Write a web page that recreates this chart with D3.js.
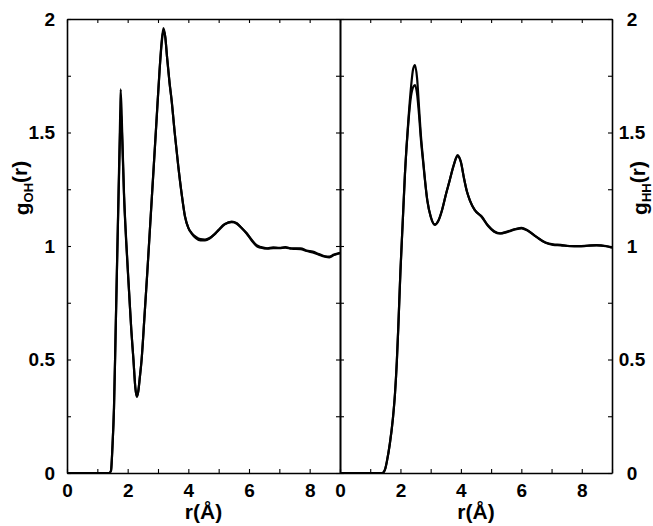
<!DOCTYPE html>
<html><head><meta charset="utf-8">
<script src="https://cdn.jsdelivr.net/npm/d3@7"></script>
<style>
body{margin:0;background:#fff;}
text{font-family:"Liberation Sans",Arial,sans-serif;font-weight:bold;fill:#000;}
</style></head>
<body><svg id="c" width="653" height="526"></svg>
<script>
// ---- data ----
const rOH = [0,1.40,1.45,1.50,1.55,1.60,1.65,1.70,1.75,1.77,1.82,1.88,1.95,2.05,2.12,2.19,2.25,2.30,2.35,2.40,2.46,2.55,2.65,2.75,2.85,2.95,3.05,3.12,3.18,3.24,3.30,3.38,3.45,3.55,3.67,3.78,3.89,4.00,4.11,4.25,4.40,4.55,4.70,4.85,5.00,5.20,5.43,5.60,5.75,5.92,6.10,6.25,6.40,6.60,6.80,7.00,7.20,7.40,7.70,7.90,8.10,8.30,8.50,8.65,8.80,9.00];
const gOH_a = [0,0,0.01,0.12,0.29,0.60,0.92,1.24,1.56,1.69,1.50,1.23,1.03,0.79,0.63,0.50,0.38,0.336,0.36,0.42,0.50,0.68,0.89,1.11,1.33,1.55,1.77,1.90,1.96,1.92,1.83,1.72,1.64,1.50,1.35,1.23,1.13,1.08,1.057,1.04,1.03,1.028,1.035,1.05,1.07,1.095,1.107,1.10,1.08,1.057,1.025,1.004,0.995,0.99,0.994,0.992,0.995,0.99,0.99,0.98,0.975,0.965,0.955,0.953,0.962,0.97];
const gOH_b = [0,0,0.01,0.12,0.29,0.60,0.92,1.22,1.50,1.60,1.47,1.22,1.02,0.79,0.63,0.50,0.38,0.336,0.36,0.42,0.50,0.68,0.89,1.11,1.33,1.55,1.77,1.89,1.95,1.92,1.83,1.72,1.64,1.50,1.35,1.23,1.13,1.08,1.055,1.035,1.025,1.025,1.033,1.05,1.072,1.097,1.105,1.098,1.08,1.055,1.022,1.0,0.992,0.988,0.99,0.99,0.993,0.988,0.986,0.978,0.972,0.962,0.953,0.95,0.96,0.968];

const rHH = [0,1.40,1.45,1.50,1.55,1.65,1.75,1.82,1.88,1.93,2.00,2.07,2.15,2.26,2.35,2.42,2.48,2.55,2.62,2.67,2.75,2.89,3.00,3.14,3.25,3.38,3.51,3.63,3.75,3.89,4.00,4.10,4.20,4.30,4.45,4.69,4.90,5.10,5.30,5.50,5.80,6.01,6.20,6.50,6.80,7.05,7.30,7.60,7.90,8.20,8.49,8.80,9.00];
const gHH_a = [0,0,0.005,0.02,0.05,0.13,0.24,0.35,0.49,0.645,0.89,1.09,1.32,1.55,1.70,1.78,1.797,1.74,1.60,1.50,1.38,1.20,1.13,1.093,1.11,1.16,1.23,1.29,1.35,1.40,1.37,1.30,1.24,1.20,1.16,1.13,1.09,1.065,1.056,1.062,1.075,1.08,1.07,1.04,1.015,1.007,1.005,1.0,1.0,1.002,1.004,1.0,0.994];
const gHH_b = [0,0,0.005,0.02,0.05,0.13,0.24,0.35,0.49,0.645,0.89,1.09,1.32,1.54,1.66,1.70,1.709,1.67,1.57,1.48,1.37,1.20,1.13,1.095,1.11,1.16,1.23,1.29,1.35,1.395,1.37,1.30,1.24,1.20,1.16,1.128,1.088,1.063,1.055,1.06,1.073,1.078,1.068,1.04,1.014,1.005,1.003,0.999,0.998,1.001,1.003,0.999,0.993];

const xTicks = [0,1,2,3,4,5,6,7,8,9];
const xLabels = [0,2,4,6,8];
const yTicks = [0,0.25,0.5,0.75,1,1.25,1.5,1.75,2];
const yLabels = [0,0.5,1,1.5,2];

// ---- layout ----
const svg = d3.select("#c");
const yTop = 19, yBot = 473;
const y = d3.scaleLinear().domain([0,2]).range([yBot, yTop]);
const panels = [
  {x0:67, x1:340, r:rOH, a:gOH_a, b:gOH_b, side:"left", sub:"OH"},
  {x0:340, x1:612, r:rHH, a:gHH_a, b:gHH_b, side:"right", sub:"HH"}
];

const fmtX = v => xLabels.includes(v) ? String(v) : "";
const fmtY = v => yLabels.includes(v) ? String(v) : "";

panels.forEach(p => {
  const x = d3.scaleLinear().domain([0,9]).range([p.x0, p.x1]);
  const g = svg.append("g");

  const gb = g.append("g").attr("transform",`translate(0,${yBot})`)
    .call(d3.axisBottom(x).tickValues(xTicks).tickSizeInner(-4).tickSizeOuter(0).tickPadding(11).tickFormat(fmtX));
  gb.selectAll("text").style("font-size","19px");
  g.append("g").attr("transform",`translate(0,${yTop})`)
    .call(d3.axisTop(x).tickValues(xTicks).tickSizeInner(-4).tickSizeOuter(0).tickFormat(""));
  const gl = g.append("g").attr("transform",`translate(${p.x0},0)`)
    .call(d3.axisLeft(y).tickValues(yTicks).tickSizeInner(-4).tickSizeOuter(0).tickPadding(12)
      .tickFormat(p.side==="left" ? fmtY : ""));
  gl.selectAll("text").style("font-size","19px");
  const gr = g.append("g").attr("transform",`translate(${p.x1},0)`)
    .call(d3.axisRight(y).tickValues(yTicks).tickSizeInner(-4).tickSizeOuter(0).tickPadding(20)
      .tickFormat(p.side==="right" ? fmtY : ""));
  gr.selectAll("text").style("font-size","19px").attr("text-anchor","middle");

  g.selectAll(".domain").attr("stroke","#000").attr("stroke-width",1.6);
  g.selectAll(".tick line").attr("stroke","#000").attr("stroke-width",1.1);
  g.selectAll(".tick text").attr("fill","#000");

  const line = d3.line().x((d,i)=>x(p.r[i])).y(d=>y(d)).curve(d3.curveMonotoneX);
  [p.a, p.b].forEach(s => {
    g.append("path").datum(s).attr("d", line).attr("fill","none")
      .attr("stroke","#000").attr("stroke-width",2.2).attr("stroke-linejoin","round");
  });

  g.append("text").attr("x",(p.x0+p.x1)/2).attr("y",519).attr("text-anchor","middle")
    .style("font-size","21px").text("r(Å)");

  const lx = p.side==="left" ? 29 : 647;
  const t = g.append("text").attr("transform",`translate(${lx},188) rotate(-90)`)
    .attr("text-anchor","middle").style("font-size","21px");
  t.append("tspan").text("g");
  t.append("tspan").attr("dy","0.3em").style("font-size","13px").text(p.sub);
  t.append("tspan").attr("dy","-0.3em").text("(r)");
});
</script></body></html>
